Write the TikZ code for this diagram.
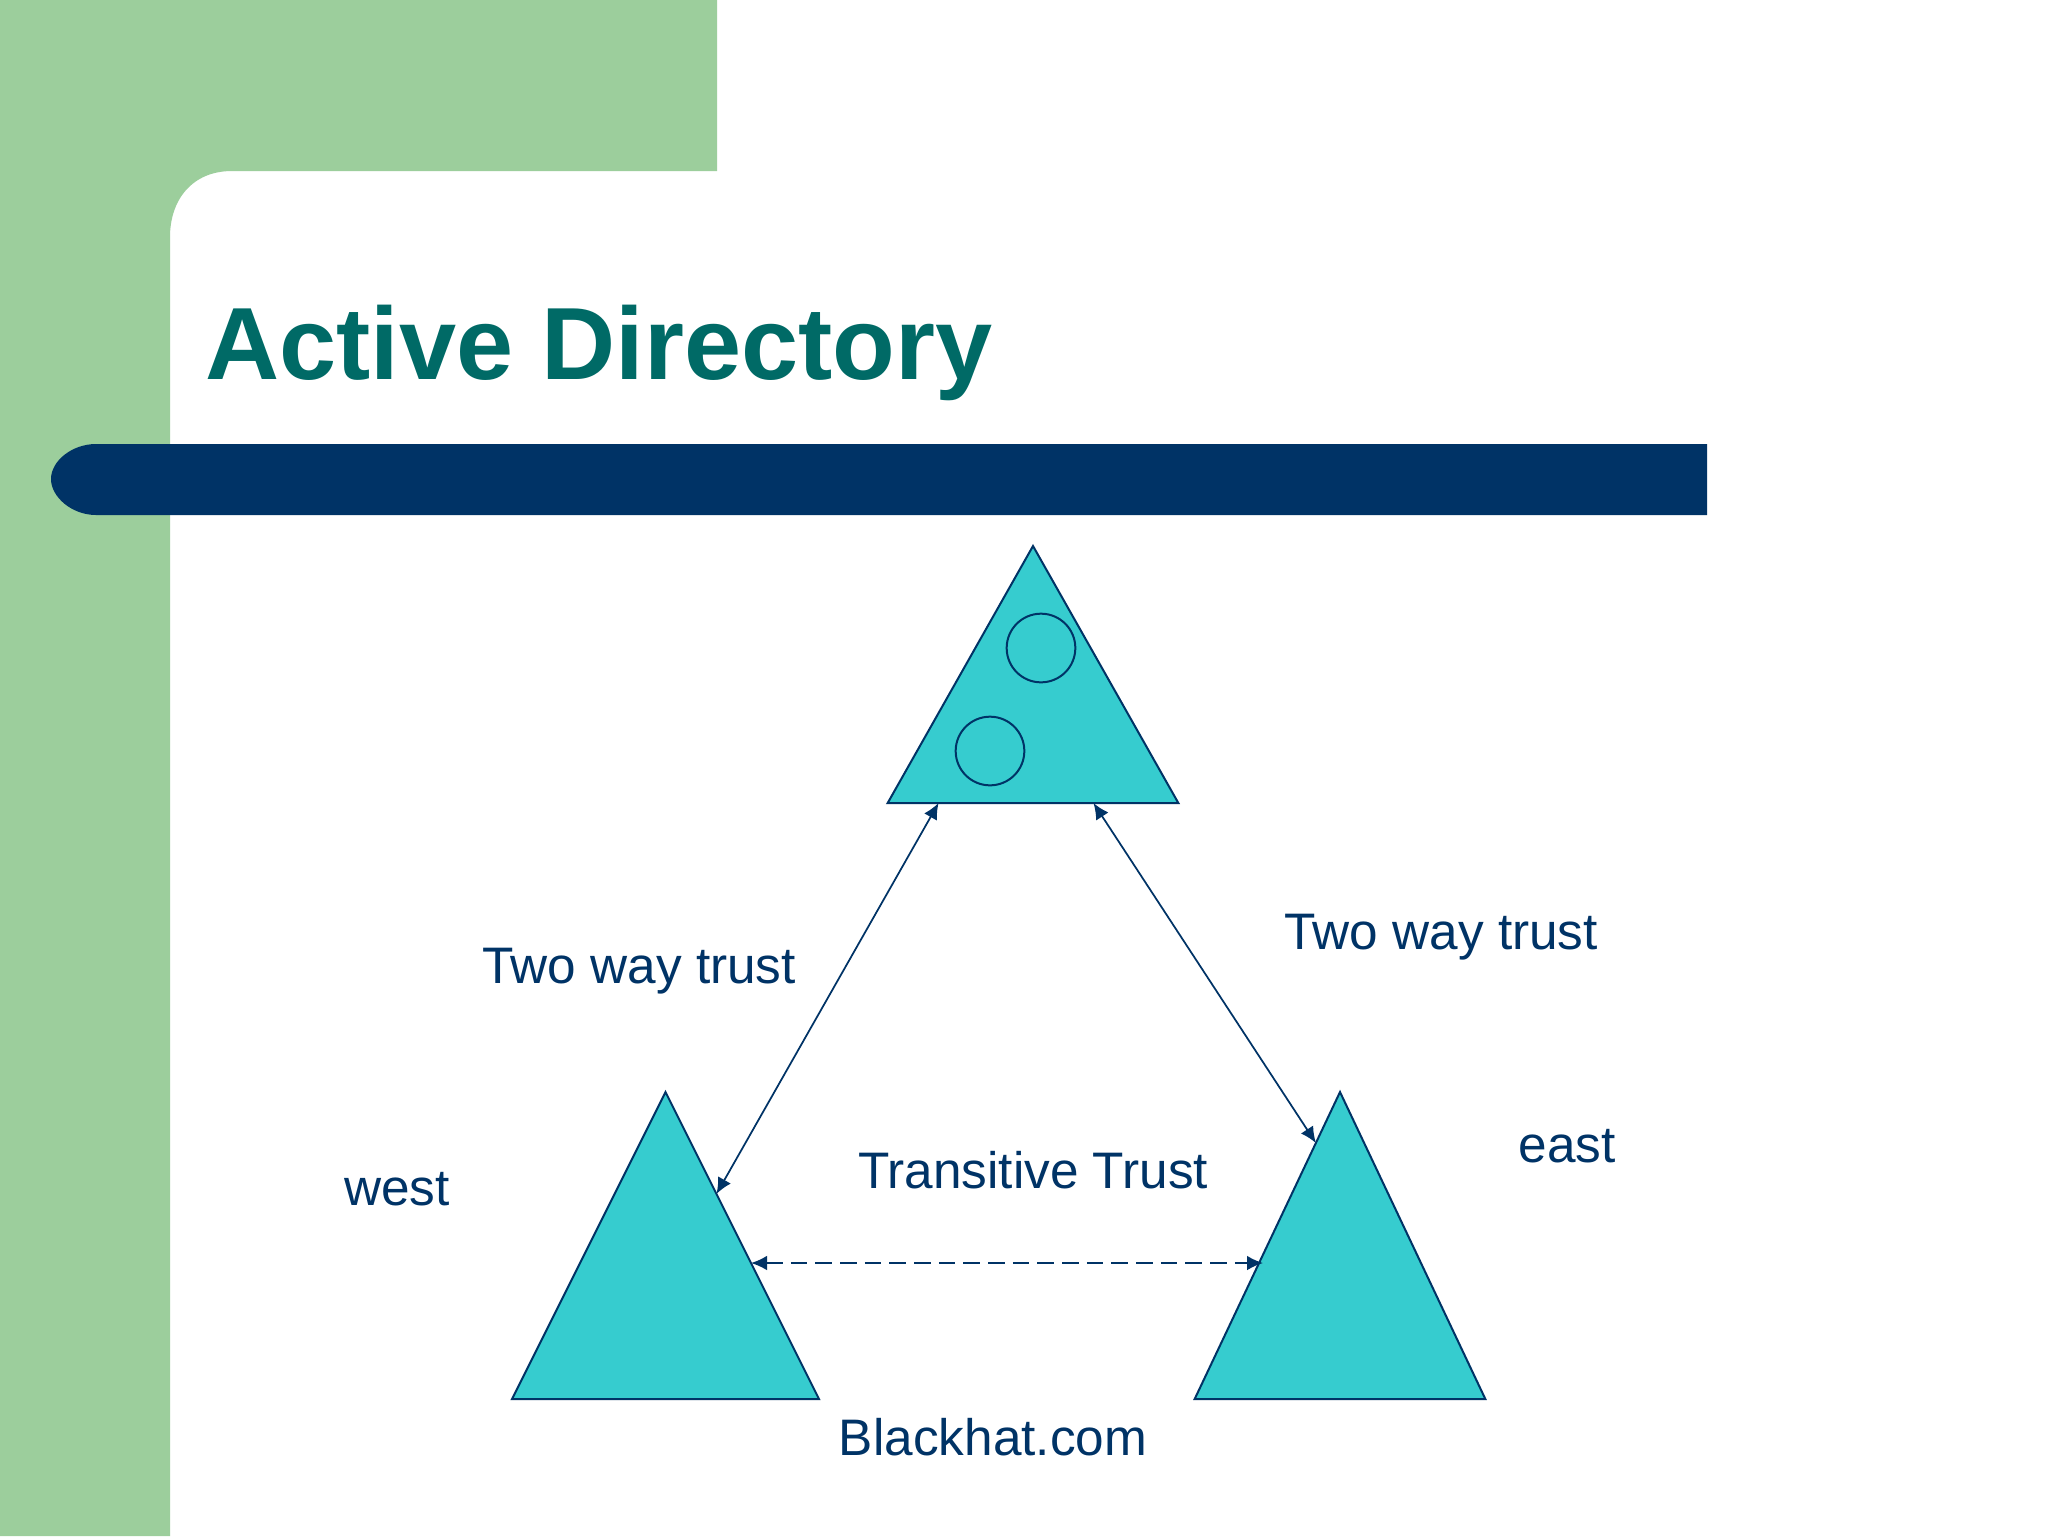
\documentclass[tikz,border=0pt]{standalone}
\usepackage{fontspec}
\setmainfont{Liberation Sans}
\usetikzlibrary{shapes.geometric, arrows.meta, calc}
\definecolor{slidegreen}{HTML}{9CCE9C}
\definecolor{slidenavy}{HTML}{003366}
\definecolor{titleteal}{HTML}{006A66}
\definecolor{domaincyan}{HTML}{36CCCF}
\tikzset{
  domaintri/.style={isosceles triangle, isosceles triangle apex angle=60, isosceles triangle stretches, shape border rotate=90, draw=slidenavy, fill=domaincyan, line width=1.5pt, inner sep=0pt, outer sep=0pt, anchor=apex},
  sitecircle/.style={circle, draw=slidenavy, line width=1.5pt, inner sep=0pt, outer sep=0pt, minimum size=51.5pt},
  trustline/.style={draw=slidenavy, line width=1.3pt, {Latex[length=12pt,width=11pt]}-{Latex[length=12pt,width=11pt]}},
  textlabel/.style={text=slidenavy, font=\fontsize{38.5}{46}\selectfont, inner sep=0pt},
}
\begin{document}
\begin{tikzpicture}[x=0.75pt,y=0.75pt,yscale=-1,xscale=1]
\useasboundingbox (0,0) rectangle (2048,1536);

%Background
\fill [white] (0,0) rectangle (2048,1536);
\fill [slidegreen] (0,0) -- (717,0) -- (717,171) -- (232,171) .. controls (192,171) and (170,200) .. (170,237) -- (170,1536) -- (0,1536) -- cycle;
\fill [slidenavy] (96,444) -- (1707,444) -- (1707,515) -- (96,515) .. controls (72,515) and (51,497) .. (51,479) .. controls (51,461) and (72,444) .. (96,444) -- cycle;

% Text Node
\node (title) [anchor=base west, inner sep=0pt, text=titleteal, font=\fontsize{77}{90}\selectfont\bfseries] at (205,379) {Active Directory};

%Triangles
\node (root) [domaintri, minimum width=218pt, minimum height=192.75pt] at (1033,546) {};
\node (west) [domaintri, minimum width=230.25pt, minimum height=230.25pt] at (665.5,1092) {};
\node (east) [domaintri, minimum width=218pt, minimum height=230.25pt] at (1340,1092) {};

\node (siteA) [sitecircle] at (1041,648) {};
\node (siteB) [sitecircle] at (990,751) {};

%Arrow ends
\coordinate (rootL) at ($(root.left corner)!0.175!(root.right corner)$);
\coordinate (rootR) at ($(root.left corner)!0.708!(root.right corner)$);
\coordinate (westT) at ($(west.apex)!0.332!(west.right corner)$);
\coordinate (westD) at ($(west.apex)!0.557!(west.right corner)$);
\coordinate (eastT) at ($(east.apex)!0.166!(east.left corner)$);
\coordinate (eastD) at ($(east.apex)!0.557!(east.left corner)$);

%Straight Lines
\draw [trustline] (rootL) -- (westT);
\draw [trustline] (rootR) -- (eastT);
\draw [trustline, dash pattern={on 12.5pt off 6pt}] (westD) -- ([xshift=3pt]eastD);

% Text Node
\node (trustW) [textlabel] at (639,971) {Two way trust};
% Text Node
\node (trustE) [textlabel] at (1441,937) {Two way trust};
% Text Node
\node (transitive) [textlabel] at (1033,1170) {Transitive Trust};
% Text Node
\node (westName) [textlabel] at (397,1189) {west};
% Text Node
\node (eastName) [textlabel] at (1567,1146) {east};
% Text Node
\node (forest) [textlabel] at (993,1437) {Blackhat.com};

\end{tikzpicture}
\end{document}
